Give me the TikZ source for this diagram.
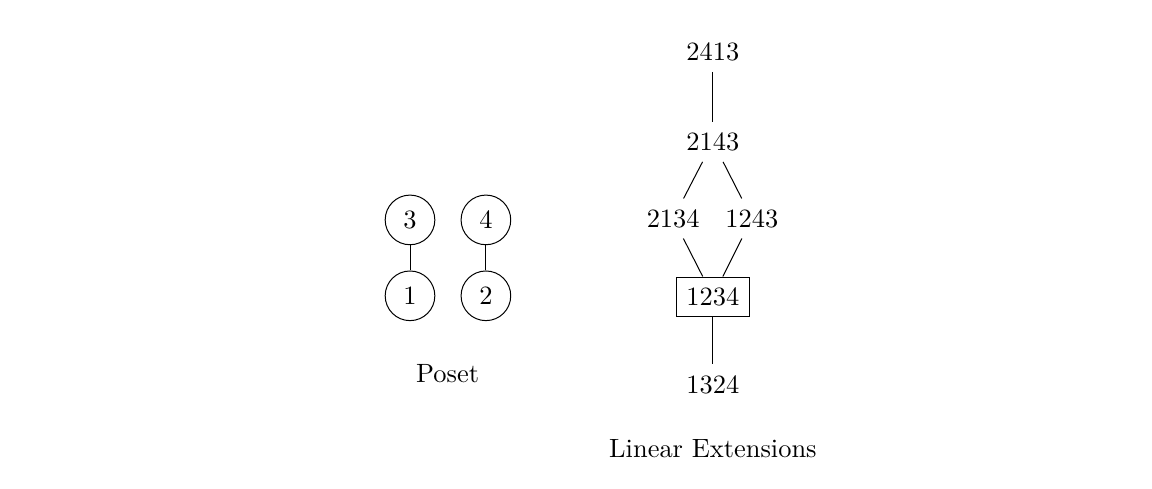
\documentclass[tikz,border=0pt]{standalone}
\begin{document}
\begin{tikzpicture}[every node/.style={font=\fontsize{10.6}{12.7}\selectfont},
  elem/.style={draw, circle, minimum size=0.7cm, inner sep=0pt},
  perm/.style={minimum width=1.03cm, minimum height=0.55cm, inner sep=0pt}]
\useasboundingbox (0,0) rectangle (16.24,6.89);
% poset
\node[elem] (p3) at (5.78,3.79) {3};
\node[elem] (p4) at (6.85,3.79) {4};
\node[elem] (p1) at (5.78,2.72) {1};
\node[elem] (p2) at (6.85,2.72) {2};
\draw (p1) -- (p3);
\draw (p2) -- (p4);
\node (poset) at (6.31,1.63) {Poset};
% linear extensions
\node[perm] (e2413) at (10.05,6.16) {2413};
\node[perm] (e2143) at (10.05,4.89) {2143};
\node[perm] (e2134) at (9.49,3.81) {2134};
\node[perm] (e1243) at (10.60,3.81) {1243};
\node[perm, draw] (e1234) at (10.05,2.71) {1234};
\node[perm] (e1324) at (10.05,1.47) {1324};
\draw (e2413) -- (e2143);
\draw (e2143) -- (e2134);
\draw (e2143) -- (e1243);
\draw (e2134) -- (e1234);
\draw (e1243) -- (e1234);
\draw (e1234) -- (e1324);
\node (linext) at (10.05,0.56) {Linear Extensions};
\end{tikzpicture}
\end{document}
